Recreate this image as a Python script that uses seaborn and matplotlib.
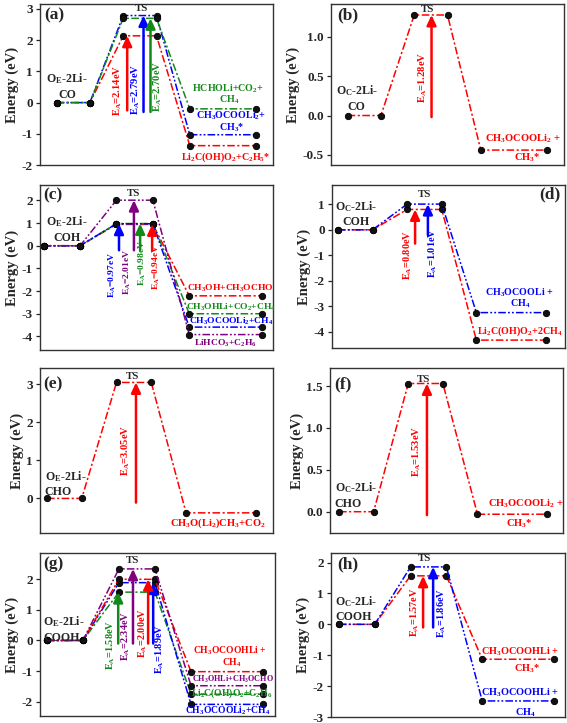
import matplotlib
matplotlib.use("Agg")
import matplotlib.pyplot as plt
import pandas as pd
import seaborn as sns

# x slots of the energy profile: IS, IS, TS, TS, FS, FS
STEPS = [0, 1, 2, 3, 4, 6]

RED, BLUE, GREEN, PURPLE = "#ff0000", "#0000ff", "#13891a", "#800080"

# (a) O_E-2Li-CO
a_colors = [RED, BLUE, GREEN]
a_ts = [2.14, 2.79, 2.70]
a_fs = [-1.38, -1.03, -0.20]
# (b) O_C-2Li-CO
b_colors = [RED]
b_ts = [1.28]
b_fs = [-0.44]
# (c) O_E-2Li-COH
c_colors = [RED, GREEN, BLUE, PURPLE]
c_ts = [0.94, 0.98, 0.97, 2.01]
c_fs = [-2.21, -3.00, -3.59, -3.92]
# (d) O_C-2Li-COH
d_colors = [RED, BLUE]
d_ts = [0.80, 1.01]
d_fs = [-4.33, -3.25]
# (e) O_E-2Li-CHO
e_colors = [RED]
e_ts = [3.05]
e_fs = [-0.38]
# (f) O_C-2Li-CHO
f_colors = [RED]
f_ts = [1.53]
f_fs = [-0.03]
# (g) O_E-2Li-COOH
g_colors = [GREEN, BLUE, RED, PURPLE]
g_ts = [1.58, 1.89, 2.00, 2.34]
g_fs = [-1.76, -2.09, -1.02, -1.48]
# (h) O_C-2Li-COOH
h_colors = [RED, BLUE]
h_ts = [1.57, 1.86]
h_fs = [-1.13, -2.48]

# product labels (text lines, colour index into the panel colours)
a_prod = [(2, "HCHOLi+CO$_2$+"), (2, "CH$_4$"), (1, "CH$_3$OCOOLi$_2$+"), (1, "CH$_3$*"),
          (0, "Li$_2$C(OH)O$_2$+C$_2$H$_5$*")]
b_prod = [(0, "CH$_3$OCOOLi$_2$ +"), (0, "CH$_3$*")]
c_prod = [(0, "CH$_3$OH+CH$_3$OCHO"), (1, "CH$_3$OHLi+CO$_2$+CH$_4$"),
          (2, "CH$_3$OCOOLi$_2$+CH$_4$"), (3, "LiHCO$_3$+C$_2$H$_6$")]
d_prod = [(1, "CH$_3$OCOOLi +"), (1, "CH$_4$"), (0, "Li$_2$C(OH)O$_2$+2CH$_4$")]
e_prod = [(0, "CH$_3$O(Li$_2$)CH$_3$+CO$_2$")]
f_prod = [(0, "CH$_3$OCOOLi$_2$ +"), (0, "CH$_3$*")]
g_prod = [(2, "CH$_3$OCOOHLi +"), (2, "CH$_4$"), (3, "CH$_3$OHLi+CH$_3$OCHO"),
          (0, "Li$_2$C(OH)O$_2$+C$_2$H$_6$"), (1, "CH$_3$OCOOLi$_2$+CH$_4$")]
h_prod = [(0, "CH$_3$OCOOHLi +"), (0, "CH$_3$*"), (1, "CH$_3$OCOOHLi +"), (1, "CH$_4$")]

start_labels = {
    "a": "O$_E$-2Li-\nCO", "b": "O$_C$-2Li-\nCO", "c": "O$_E$-2Li-\nCOH", "d": "O$_C$-2Li-\nCOH",
    "e": "O$_E$-2Li-\nCHO", "f": "O$_C$-2Li-\nCHO", "g": "O$_E$-2Li-\nCOOH", "h": "O$_C$-2Li-\nCOOH",
}

DASH_DOT = (0, (5, 1.6, 1.4, 1.6))
DASH_DOT_DOT = (0, (5, 1.4, 1.2, 1.4, 1.2, 1.4))
LINESTYLE = {RED: DASH_DOT, GREEN: DASH_DOT, BLUE: DASH_DOT_DOT, PURPLE: DASH_DOT_DOT}

# layout: axes box in pixels (left, top, right, bottom), limits, label spots
LAYOUT = {
    "a": dict(box=(40, 4, 273, 165), xlim=(-0.5, 6.5), ylim=(-2, 3.16), yticks=[-2, -1, 0, 1, 2, 3], fmt="{:.0f}",
              tag=(0.02, 0.93, "left"), ts=(2.55, 3.03), start=(0.31, 0.53, "center"),
              arrow_x=[2.12, 2.61, 2.82], tail=[-0.25, -0.3, -0.3], efs=7.6,
              ea=[(1.85, 0.39), (2.37, 0.42), (3.03, 0.53)],
              prod=[(5.14, 0.43), (5.17, 0.08), (5.23, -0.41), (5.25, -0.80), (5.08, -1.74)], pfs=7.2),
    "b": dict(box=(331, 4, 564, 165), xlim=(-0.5, 6.5), ylim=(-0.63, 1.42), yticks=[-0.5, 0.0, 0.5, 1.0],
              fmt="{:.1f}", tag=(0.026, 0.93, "left"), ts=(2.4, 1.35), start=(0.27, 0.22, "center"),
              arrow_x=[2.52], tail=[-0.02], ea=[(2.25, 0.48)], efs=7.6,
              prod=[(5.26, -0.30), (5.4, -0.54)], pfs=7.6),
    "c": dict(box=(40, 185, 273, 350), xlim=(-0.1, 6.3), ylim=(-4.6, 2.68), yticks=[-4, -3, -2, -1, 0, 1, 2],
              fmt="{:.0f}", tag=(0.015, 0.94, "left"), ts=(2.48, 2.32), start=(0.64, 0.72, "center"),
              arrow_x=[2.98, 2.65, 2.07, 2.48], tail=[-0.2, -0.2, -0.2, -0.2], efs=6.8,
              ea=[(3.11, -0.94), (2.72, -0.74), (1.88, -1.28), (2.29, -1.13)],
              prod=[(5.12, -1.87), (5.15, -2.72), (5.14, -3.34), (4.98, -4.32)], pfs=6.8),
    "d": dict(box=(332, 185, 565, 348), xlim=(-0.17, 6.56), ylim=(-4.64, 1.76), yticks=[-4, -3, -2, -1, 0, 1],
              fmt="{:.0f}", tag=(0.98, 0.94, "right"), ts=(2.49, 1.4), start=(0.52, 0.64, "center"),
              arrow_x=[2.23, 2.6], tail=[-0.54, -0.21], efs=7.4,
              ea=[(2.03, -0.99), (2.75, -0.93)],
              prod=[(5.24, -2.47), (5.27, -2.91), (5.24, -4.0)], pfs=7.2),
    "e": dict(box=(40, 368, 273, 533), xlim=(-0.2, 6.5), ylim=(-0.91, 3.43), yticks=[0, 1, 2, 3], fmt="{:.0f}",
              tag=(0.015, 0.9, "left"), ts=(2.47, 3.2), start=(-0.06, 0.39, "left"),
              arrow_x=[2.56], tail=[-0.11], ea=[(2.27, 1.27)], efs=7.6,
              prod=[(4.93, -0.66)], pfs=7.6),
    "f": dict(box=(330, 368, 563, 533), xlim=(-0.26, 6.47), ylim=(-0.254, 1.715), yticks=[0.0, 0.5, 1.0, 1.5],
              fmt="{:.1f}", tag=(0.017, 0.9, "left"), ts=(2.43, 1.58), start=(-0.12, 0.2, "left"),
              arrow_x=[2.54], tail=[-0.04], ea=[(2.25, 0.72)], efs=7.6,
              prod=[(5.4, 0.09), (5.2, -0.14)], pfs=7.6),
    "g": dict(box=(40, 553, 275, 716), xlim=(-0.19, 6.33), ylim=(-2.47, 2.86), yticks=[-2, -1, 0, 1, 2],
              fmt="{:.0f}", tag=(0.015, 0.93, "left"), ts=(2.39, 2.63), start=(-0.1, 0.38, "left"),
              arrow_x=[1.98, 2.95, 2.81, 2.39], tail=[-0.1, -0.1, -0.1, -0.1], efs=7.4,
              ea=[(1.78, -0.15), (3.14, -0.29), (2.67, 0.23), (2.2, 0.13)],
              prod=[(5.08, -0.34), (5.14, -0.74), (5.17, -1.27), (5.14, -1.73), (5.03, -2.30)], pfs=6.9),
    "h": dict(box=(331, 553, 565, 717), xlim=(-0.22, 6.31), ylim=(-3.0, 2.31), yticks=[-3, -2, -1, 0, 1, 2],
              fmt="{:.0f}", tag=(0.026, 0.93, "left"), ts=(2.38, 2.14), start=(-0.11, 0.51, "left"),
              arrow_x=[2.35, 2.63], tail=[-0.1, -0.1], efs=7.4,
              ea=[(2.13, 0.40), (2.88, 0.37)],
              prod=[(5.06, -0.90), (5.25, -1.44), (5.06, -2.22), (5.2, -2.85)], pfs=7.4),
}

PANELS = {
    "a": (a_colors, a_ts, a_fs, a_prod), "b": (b_colors, b_ts, b_fs, b_prod),
    "c": (c_colors, c_ts, c_fs, c_prod), "d": (d_colors, d_ts, d_fs, d_prod),
    "e": (e_colors, e_ts, e_fs, e_prod), "f": (f_colors, f_ts, f_fs, f_prod),
    "g": (g_colors, g_ts, g_fs, g_prod), "h": (h_colors, h_ts, h_fs, h_prod),
}

sns.set_style("ticks")
plt.rcParams.update({
    "font.family": ["Liberation Serif", "DejaVu Serif"],
    "font.weight": "bold",
    "axes.labelweight": "bold",
    "mathtext.fontset": "custom",
    "mathtext.rm": "Liberation Serif:bold",
    "mathtext.it": "Liberation Serif:bold",
    "mathtext.bf": "Liberation Serif:bold",
    "mathtext.default": "rm",
    "axes.linewidth": 1.0,
    "axes.edgecolor": "#333333",
})

W, H = 567, 723
fig = plt.figure(figsize=(W / 100, H / 100), dpi=100)


def draw_panel(key):
    colors, ts, fs, prod = PANELS[key]
    lay = LAYOUT[key]
    l, t, r, b = lay["box"]
    ax = fig.add_axes([l / W, 1 - b / H, (r - l) / W, (b - t) / H])

    # energy paths
    for c, e_ts, e_fs in zip(colors, ts, fs):
        df = pd.DataFrame({"step": STEPS, "energy": [0, 0, e_ts, e_ts, e_fs, e_fs]})
        sns.lineplot(data=df, x="step", y="energy", ax=ax, color=c, linestyle=LINESTYLE[c], linewidth=1.1,
                     marker="o", markersize=4.6, markerfacecolor="#111111", markeredgecolor="black",
                     markeredgewidth=0.6, sort=False, legend=False)

    # activation barrier arrows and labels
    for c, e_ts, x, tail, (lx, ly) in zip(colors, ts, lay["arrow_x"], lay["tail"], lay["ea"]):
        ax.annotate("", xy=(x, e_ts), xytext=(x, tail),
                    arrowprops=dict(arrowstyle="-|>,head_length=0.6,head_width=0.28", color=c, lw=1.8,
                                    mutation_scale=10, shrinkA=0, shrinkB=0))
        ax.text(lx, ly, f"E$_A$={e_ts:.2f}eV", color=c, rotation=90, ha="center", va="center",
                fontsize=lay["efs"])

    # product labels
    for (ci, txt), (px, py) in zip(prod, lay["prod"]):
        size = lay["pfs"]
        if txt == "CH$_3$OHLi+CH$_3$OCHO":
            size = 5.9
        ax.text(px, py, txt, color=colors[ci], ha="center", va="center", fontsize=size, clip_on=False)

    sx, sy, sha = lay["start"]
    ax.text(sx, sy, start_labels[key], ha=sha, va="center", multialignment=sha, fontsize=8.6, linespacing=1.3)
    ax.text(*lay["ts"], "TS", ha="center", va="center", fontsize=7.8)
    tx, ty, tha = lay["tag"]
    ax.text(tx, ty, f"({key})", transform=ax.transAxes, ha=tha, va="center", fontsize=12.5)

    ax.set_xlim(*lay["xlim"])
    ax.set_ylim(*lay["ylim"])
    ax.set_xticks([])
    ax.set_yticks(lay["yticks"])
    ax.set_yticklabels([lay["fmt"].format(v) for v in lay["yticks"]], fontsize=9.5, fontweight="bold")
    ax.tick_params(axis="y", length=3, width=0.9, pad=2)
    ax.set_xlabel("")
    ax.set_ylabel("Energy (eV)", fontsize=10.5, fontweight="bold", labelpad=2)


for k in "abcdefgh":
    draw_panel(k)

fig.savefig("out.png", dpi=100)
